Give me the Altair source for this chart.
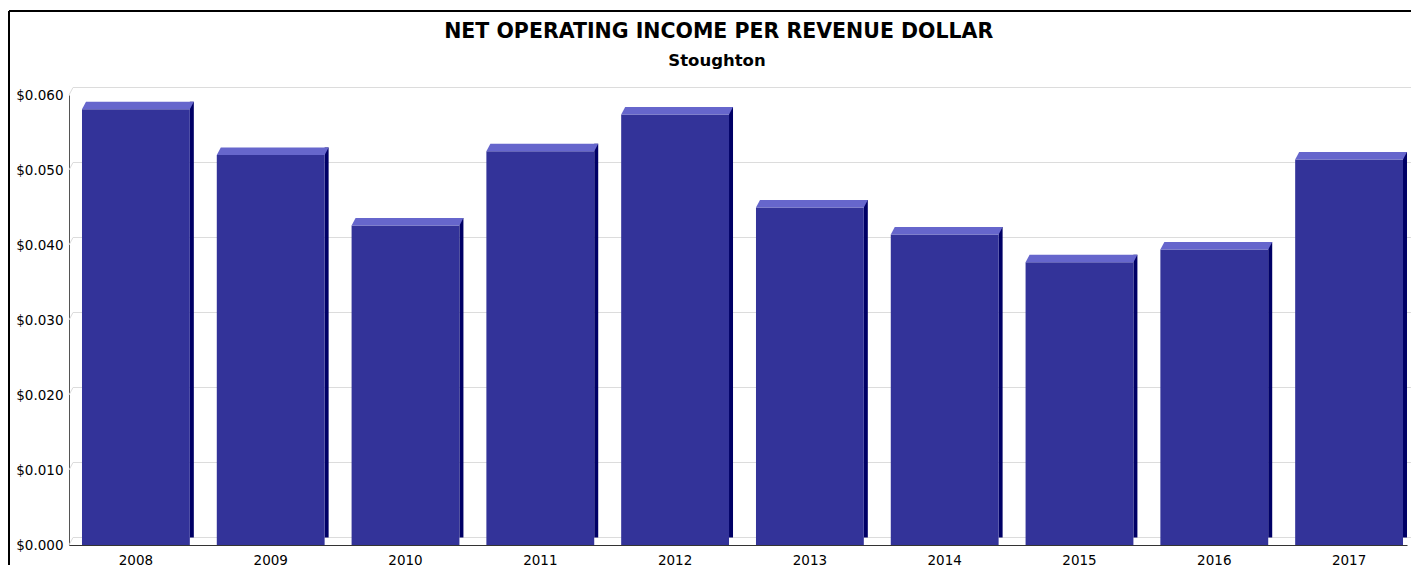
import altair as alt
import pandas as pd

# ---- data ----
years = ["2008", "2009", "2010", "2011", "2012", "2013", "2014", "2015", "2016", "2017"]
values = [0.0581, 0.0520, 0.0426, 0.0525, 0.0574, 0.0450, 0.0414, 0.0377, 0.0394, 0.0514]
tick_values = [0.0, 0.01, 0.02, 0.03, 0.04, 0.05, 0.06]
title_text = "NET OPERATING INCOME PER REVENUE DOLLAR"
subtitle_text = "Stoughton"

# ---- layout ----
W, H = 1338, 450
DX, DY = 4, 7.5          # 3D depth offsets (pixels)
P_IN, P_OUT, ALIGN = 0.2, 0.063, 0.765
step = W / (len(years) - P_IN + 2 * P_OUT)
bw = step * (1 - P_IN)
FONT = "DejaVu Sans"
LABEL_SIZE = 13.5

df = pd.DataFrame({"year": years, "value": values})
grid_df = pd.DataFrame({"value": tick_values})
title_df = pd.DataFrame({"t": [title_text]})
sub_df = pd.DataFrame({"t": [subtitle_text]})
frame_df = pd.DataFrame({"k": [0]})

xscale = alt.Scale(domain=years, paddingInner=P_IN, paddingOuter=P_OUT, align=ALIGN)
yscale = alt.Scale(domain=[0, 0.06], nice=False, zero=True)

x_axis = alt.Axis(title=None, labelAngle=0, labelFont=FONT, labelFontSize=LABEL_SIZE,
                  labelColor="#000000", labelPadding=8, ticks=False,
                  domainColor="#333333", domainWidth=1, grid=False)
y_axis = alt.Axis(title=None, values=tick_values, format="$.3f", grid=False,
                  ticks=False, labelFont=FONT, labelFontSize=LABEL_SIZE,
                  labelColor="#000000", labelPadding=6,
                  domainColor="#555555", domainWidth=1)

X = alt.X("year:N", scale=xscale, sort=years, axis=x_axis)
Y = alt.Y("value:Q", scale=yscale, axis=y_axis)

grid = alt.Chart(grid_df).mark_rule(color="#dcdcdc", strokeWidth=1, yOffset=-DY).encode(
    y=Y, x=alt.value(DX), x2=alt.value(W + DX),
)
conn = alt.Chart(grid_df).mark_rule(color="#dcdcdc", strokeWidth=1, y2Offset=-DY).encode(
    y=Y, y2="value:Q", x=alt.value(0), x2=alt.value(DX),
)

side = alt.Chart(df).mark_bar(
    color="#000066", width=DX, xOffset=bw / 2 + DX / 2, yOffset=-DY
).encode(x=X, y=Y)

front = alt.Chart(df).mark_bar(color="#333399").encode(x=X, y=Y)

r = 100.0
half = bw / 2
top_path = "M {a:.4f} 0 L {b:.4f} 0 L {c:.4f} {d:.4f} L {e:.4f} {d:.4f} Z".format(
    a=-half / r, b=half / r, c=(half + DX) / r, d=-DY / r, e=(-half + DX) / r)
top = alt.Chart(df).mark_point(
    shape=top_path, size=(2 * r) ** 2, filled=True, color="#6666cc", opacity=1, strokeWidth=0
).encode(x=X, y=Y)

title = alt.Chart(title_df).mark_text(
    font=FONT, fontSize=20.5, fontWeight="bold", color="#000000",
    align="center", baseline="alphabetic"
).encode(text="t:N", x=alt.value(649.7), y=alt.value(-57))

subtitle = alt.Chart(sub_df).mark_text(
    font=FONT, fontSize=16.5, fontWeight="bold", color="#000000",
    align="center", baseline="alphabetic"
).encode(text="t:N", x=alt.value(648), y=alt.value(-29))

frame_top = alt.Chart(frame_df).mark_rule(color="#000000", strokeWidth=2).encode(
    x=alt.value(-60), x2=alt.value(W + DX), y=alt.value(-84)
)
frame_left = alt.Chart(frame_df).mark_rule(color="#000000", strokeWidth=2).encode(
    x=alt.value(-60), y=alt.value(-84), y2=alt.value(H + 20)
)

chart = alt.layer(
    grid, conn, side, front, top, title, subtitle, frame_top, frame_left
).properties(
    width=W, height=H,
    padding={"left": 0, "top": 2, "right": 0, "bottom": 0},
    background="white",
).configure_view(stroke=None)

chart.save("out.html", embed_options={"renderer": "svg", "actions": False})
